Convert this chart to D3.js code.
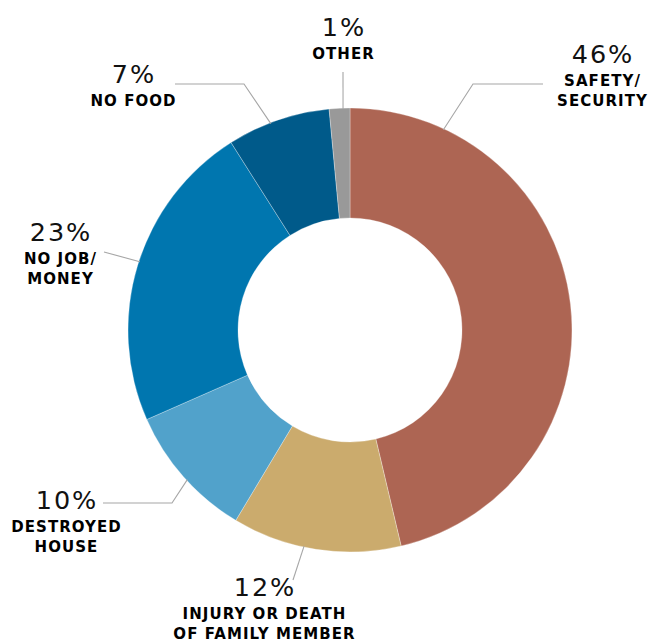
<!DOCTYPE html>
<html><head><meta charset="utf-8">
<script src="https://cdn.jsdelivr.net/npm/d3@7"></script>
<style>body{margin:0;background:#fff}svg{display:block}</style>
</head><body>
<svg id="c" width="654" height="639"></svg>
<script>
// data
const categories = ["SAFETY/\nSECURITY","INJURY OR DEATH\nOF FAMILY MEMBER","DESTROYED\nHOUSE","NO JOB/\nMONEY","NO FOOD","OTHER"];
const values = [46.3, 12.3, 9.8, 22.6, 7.5, 1.5];
const pctLabels = ["46%","12%","10%","23%","7%","1%"];
const colors = ["#AD6553","#CBAB6D","#51A2CB","#0076AF","#005A8A","#999999"];

// layout (label placement per slice)
const layout = [
  {a:25,  pts:[[473,84],[543,84]],  tx:602, ty:63},
  {a:192, pts:[[293,580]],          tx:264, ty:596},
  {a:-132.6, pts:[[172,503],[103,503]], tx:66, ty:509},
  {a:-72, pts:[[104,252]],          tx:60, ty:241},
  {a:-21, pts:[[244,84],[175,84]],  tx:133, ty:83},
  {a:-1.8, pts:[[343,72]],          tx:343, ty:36}
];

const cx=350, cy=330, R=222, r=112;
const svg=d3.select("#c");
const g=svg.append("g").attr("transform",`translate(${cx},${cy})`);
const pie=d3.pie().sort(null).value(d=>d.v);
const arcs=pie(values.map((v,i)=>({v,i})));
const arc=d3.arc().innerRadius(r).outerRadius(R);
g.selectAll("path.s").data(arcs).join("path").attr("class","s")
  .attr("d",arc).attr("fill",d=>colors[d.data.i]).attr("stroke","#fff").attr("stroke-width",0.3);

const line=d3.line();
layout.forEach((L,i)=>{
  const ang=L.a*Math.PI/180;
  const sx=cx+(R-1)*Math.sin(ang), sy=cy-(R-1)*Math.cos(ang);
  svg.append("path").attr("d",line([[sx,sy],...L.pts])).attr("fill","none")
    .attr("stroke","#a6a6a6").attr("stroke-width",1.1);
  const t=svg.append("text").attr("text-anchor","middle").attr("font-family","DejaVu Sans, Verdana, sans-serif");
  t.append("tspan").attr("x",L.tx+0.9).attr("y",L.ty).attr("font-size",25.5).attr("letter-spacing",1.8).attr("fill","#111").text(pctLabels[i]);
  categories[i].split("\n").forEach((ln,j)=>{
    t.append("tspan").attr("x",L.tx+0.5).attr("y",L.ty+23+j*20).attr("font-size",15).attr("letter-spacing",1.05).attr("font-weight","bold").attr("fill","#000").text(ln);
  });
});
</script>
</body></html>
